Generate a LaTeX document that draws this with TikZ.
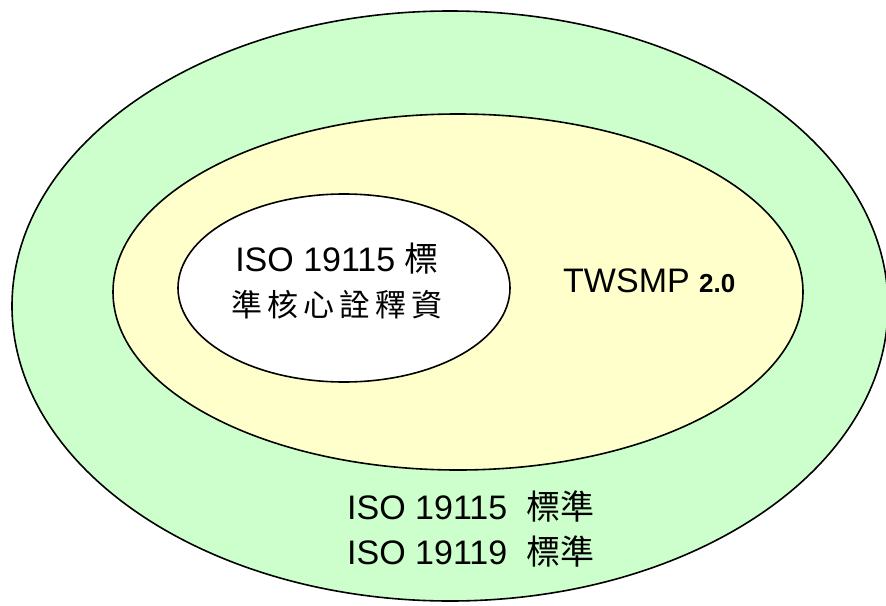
\documentclass[tikz,border=0pt]{standalone}
\usepackage{fontspec}
\setmainfont{Liberation Sans}
\newfontfamily\cjk{Noto Sans CJK TC}
\definecolor{outergreen}{RGB}{204,255,204}
\definecolor{midyellow}{RGB}{255,255,204}
\begin{document}
\begin{tikzpicture}[x=1pt,y=-1pt,
  ring/.style={draw=black,line width=1.6pt},
  label/.style={inner sep=0pt,font=\fontsize{34}{45}\selectfont}]
\useasboundingbox (0,0) rectangle (886,605);
\clip (0,0) rectangle (886,605);
\fill[white] (0,0) rectangle (886,605);
\draw[ring,fill=outergreen] (450,306) ellipse [x radius=438,y radius=295];
\draw[ring,fill=midyellow] (458,292) ellipse [x radius=345,y radius=178];
\draw[ring,fill=white] (344,288) ellipse [x radius=166,y radius=94];
\node[label,align=center] (core) at (337,281)
  {ISO 19115 {\cjk 標}\\{\cjk\fontsize{31}{45}\selectfont 準\,核\,心\,詮\,釋\,資}};
\node[label,anchor=west] (tw) at (563,281)
  {TWSMP {\bfseries\fontsize{26}{30}\selectfont 2.0}};
\node[label,anchor=west,align=left] (std) at (347,529)
  {ISO 19115\ \ {\cjk 標準}\\ISO 19119\ \ {\cjk 標準}};
\end{tikzpicture}
\end{document}
